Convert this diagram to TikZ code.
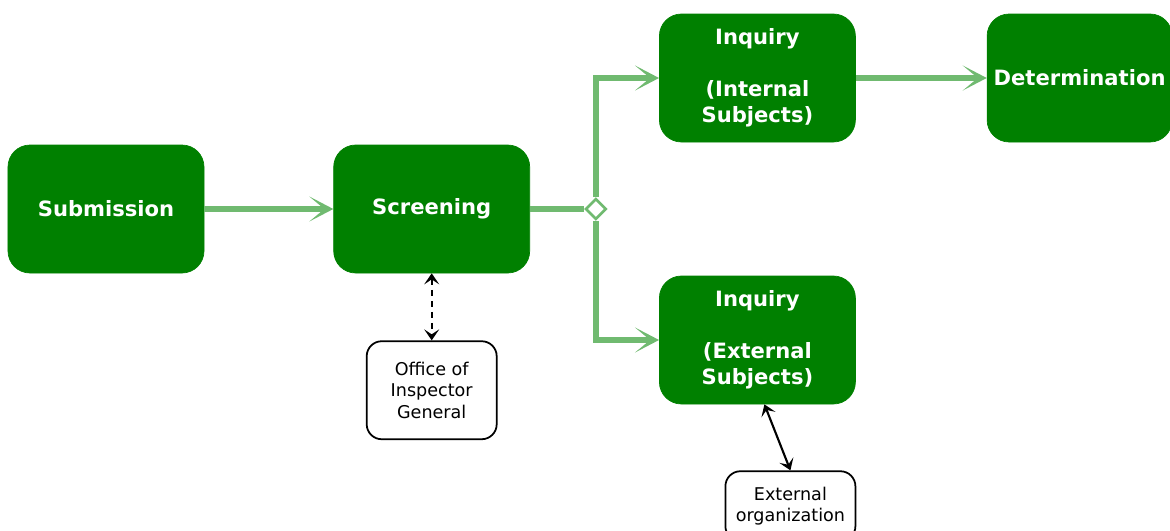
\documentclass[tikz,border=0pt]{standalone}
\usepackage{fontspec}
\setmainfont{DejaVu Sans}
\usetikzlibrary{shapes.geometric, arrows.meta, positioning}
\definecolor{stagegreen}{RGB}{0,128,0}
\definecolor{flowgreen}{RGB}{112,186,112}

\begin{document}
\begin{tikzpicture}[
    stage/.style={rounded corners=0.44cm, fill=stagegreen, draw=stagegreen, text=white, align=center, font=\bfseries\fontsize{12}{14.8}\selectfont, minimum width=3.92cm, minimum height=2.56cm, inner sep=1pt},
    note/.style={rounded corners=0.3cm, draw=black, line width=1pt, fill=white, align=center, font=\fontsize{10}{12.2}\selectfont, minimum width=2.6cm, inner sep=1pt},
    flowline/.style={draw=flowgreen, line width=3pt},
    flow/.style={flowline, -{Stealth[length=0.48cm, width=0.5cm, inset=0.3cm]}},
    link/.style={black, line width=1.2pt, {Stealth[length=0.22cm, width=0.3cm, inset=0.1cm]}-{Stealth[length=0.22cm, width=0.3cm, inset=0.1cm]}}
]
    \useasboundingbox (0,0) rectangle (23.4,-10.62);
    \clip (0,0) rectangle (23.4,-10.62);

    % Nodes
    \node (submission) [stage] at (2.12,-4.18) {Submission};
    \node (screening) [stage, right=2.58cm of submission] {Screening};
    \node (split) [diamond, draw=flowgreen, fill=white, line width=1.5pt, minimum size=0.42cm, inner sep=0pt, right=1.08cm of screening] {};
    \node (inqInt) [stage, right=2.58cm of screening, yshift=2.62cm] {Inquiry\\[14.8pt](Internal\\Subjects)};
    \node (determination) [stage, minimum width=3.7cm, right=2.62cm of inqInt] {Determination};
    \node (inqExt) [stage, right=2.58cm of screening, yshift=-2.62cm] {Inquiry\\[14.8pt](External\\Subjects)};
    \node (office) [note, minimum height=1.96cm, below=1.34cm of screening] {Office of\\Inspector\\General};
    \node (extOrg) [note, minimum height=1.4cm, below=1.32cm of inqExt, xshift=0.66cm] {External\\organization};

    % Arrows
    \draw[flow] (submission) -- (screening);
    \draw[flowline] (screening) -- (split);
    \draw[flow] (split) |- (inqInt);
    \draw[flow] (split) |- (inqExt);
    \draw[flow] (inqInt) -- (determination);
    \draw[link, dash pattern=on 0.12cm off 0.1cm] (screening) -- (office);
    \draw[link] ([xshift=0.14cm]inqExt.south) -- (extOrg.north);
\end{tikzpicture}
\end{document}
